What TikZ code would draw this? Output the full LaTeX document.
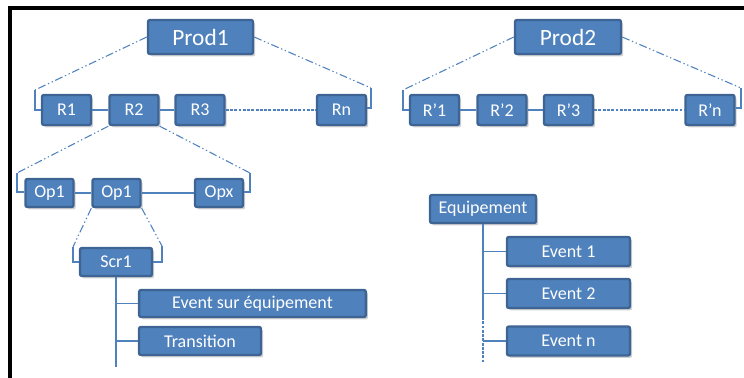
\documentclass[tikz,border=0pt]{standalone}
\usepackage{fontspec}
\setmainfont{Carlito}
\usetikzlibrary{shadows}
\definecolor{boxfill}{HTML}{4F81BD}
\definecolor{boxline}{HTML}{3E6494}
\definecolor{conn}{HTML}{4F81BD}
\tikzset{
  box/.style={draw=boxline, fill=boxfill, line width=1.8pt, rounded corners=1.5pt,
    text=white, font=\fontsize{13.5}{15}\selectfont, inner sep=0pt,
    drop shadow={shadow xshift=1.6pt, shadow yshift=-1.8pt, opacity=0.3, fill=black!60}},
  bigbox/.style={box, font=\fontsize{17.5}{19}\selectfont},
  link/.style={draw=conn, line width=0.8pt},
  bracket/.style={link, dash pattern=on 6pt off 2pt on 1pt off 2pt on 1pt off 2pt},
  dotlink/.style={link, dash pattern=on 2.2pt off 1pt},
  frame/.style={draw=black, line width=2.3pt}
}
\begin{document}
\begin{tikzpicture}[x=0.75pt, y=-0.75pt]
\useasboundingbox (0,0) rectangle (744,378);
% frame
\coordinate (fl) at (10,378);
\coordinate (fc) at (10,8);
\coordinate (fr) at (744,8);
\draw[frame] (fl) -- (fc) -- (fr);

% Prod1 tree
\node[bigbox, minimum width=78.75pt, minimum height=25.5pt] (p1) at (200.5,37) {Prod1};
\node[box, minimum width=36.75pt, minimum height=22.5pt] (r1) at (66.5,110) {R1};
\node[box, minimum width=36.75pt, minimum height=22.5pt] (r2) at (134,110) {R2};
\node[box, minimum width=36.75pt, minimum height=22.5pt] (r3) at (200,110) {R3};
\node[box, minimum width=36.75pt, minimum height=22.5pt] (rn) at (341.5,110) {Rn};

% Prod2 tree
\node[bigbox, minimum width=79.5pt, minimum height=25.5pt] (p2) at (568,37) {Prod2};
\node[box, minimum width=36.75pt, minimum height=22.5pt] (q1) at (434.5,110) {R’1};
\node[box, minimum width=36.75pt, minimum height=22.5pt] (q2) at (502,110) {R’2};
\node[box, minimum width=36.75pt, minimum height=22.5pt] (q3) at (568.5,110) {R’3};
\node[box, minimum width=36.75pt, minimum height=22.5pt] (qn) at (710,110) {R’n};

% operations
\node[box, minimum width=36pt, minimum height=21pt] (o1) at (49.5,193) {Op1};
\node[box, minimum width=36pt, minimum height=21pt] (o2) at (116.5,193) {Op1};
\node[box, minimum width=36pt, minimum height=21pt] (ox) at (219,193) {Opx};

% scenario
\node[box, minimum width=54pt, minimum height=21pt] (s1) at (116,262) {Scr1};
\node[box, minimum width=170pt, minimum height=20.25pt] (es) at (252.5,303.5) {Event sur équipement};
\node[box, minimum width=91.5pt, minimum height=21pt] (tr) at (200,341) {Transition};

% equipment
\node[box, minimum width=79.5pt, minimum height=21pt] (eq) at (483,209) {Equipement};
\node[box, minimum width=92.25pt, minimum height=21.75pt] (e1) at (568.5,251.5) {Event 1};
\node[box, minimum width=92.25pt, minimum height=21.75pt] (e2) at (568.5,293.5) {Event 2};
\node[box, minimum width=92.25pt, minimum height=21.75pt] (en) at (568.5,341) {Event n};

% bracket coordinates
\coordinate (b1a) at (35,90);  \coordinate (b1b) at (35,110);
\coordinate (b2a) at (371,88); \coordinate (b2b) at (371,108);
\coordinate (b3a) at (403,90); \coordinate (b3b) at (403,110);
\coordinate (b4a) at (741,88); \coordinate (b4b) at (741,108);
\coordinate (b5a) at (17,173); \coordinate (b5b) at (17,192);
\coordinate (b6a) at (250,173); \coordinate (b6b) at (250,192);
\coordinate (b7a) at (73,247); \coordinate (b7b) at (73,262);
\coordinate (b8a) at (162,246); \coordinate (b8b) at (162,262);

% Prod1 brackets
\draw[bracket] (p1.west) -- (b1a);
\draw[link] (b1a) -- (b1b) -- (r1.west);
\draw[bracket] (p1.east) -- (b2a);
\draw[link] (b2a) -- (b2b) -- (rn.east |- b2b);
% Prod2 brackets
\draw[bracket] (p2.west) -- (b3a);
\draw[link] (b3a) -- (b3b) -- (q1.west);
\draw[bracket] (p2.east) -- (b4a);
\draw[link] (b4a) -- (b4b) -- (qn.east |- b4b);
% R2 brackets
\draw[bracket] (r2.south west) -- (b5a);
\draw[link] (b5a) -- (b5b) -- (o1.west |- b5b);
\draw[bracket] (r2.south east) -- (b6a);
\draw[link] (b6a) -- (b6b) -- (ox.east |- b6b);
% Op1 brackets
\draw[bracket] (o2.south west) -- (b7a);
\draw[link] (b7a) -- (b7b) -- (s1.west);
\draw[bracket] (o2.south east) -- (b8a);
\draw[link] (b8a) -- (b8b) -- (s1.east);

% chains
\draw[link] (r1.east) -- (r2.west);
\draw[link] (r2.east) -- (r3.west);
\draw[dotlink] (r3.east) -- (rn.west);
\draw[link] (q1.east) -- (q2.west);
\draw[link] (q2.east) -- (q3.west);
\draw[dotlink] (q3.east) -- (qn.west);
\draw[link] (o1.east) -- (o2.west);
\draw[link] (o2.east) -- (ox.west);

% scenario trunk
\coordinate (s1end) at (116,367);
\draw[link] (s1.south) -- (s1end);
\draw[link] (s1.south |- es.west) -- (es.west);
\draw[link] (s1.south |- tr.west) -- (tr.west);

% equipment trunk
\coordinate (eqmid) at (483,317);
\coordinate (eqend) at (483,362);
\draw[link] (eq.south) -- (eqmid);
\draw[dotlink] (eqmid) -- (eqend);
\draw[link] (eq.south |- e1.west) -- (e1.west);
\draw[link] (eq.south |- e2.west) -- (e2.west);
\draw[link] (eq.south |- en.west) -- (en.west);
\end{tikzpicture}
\end{document}
